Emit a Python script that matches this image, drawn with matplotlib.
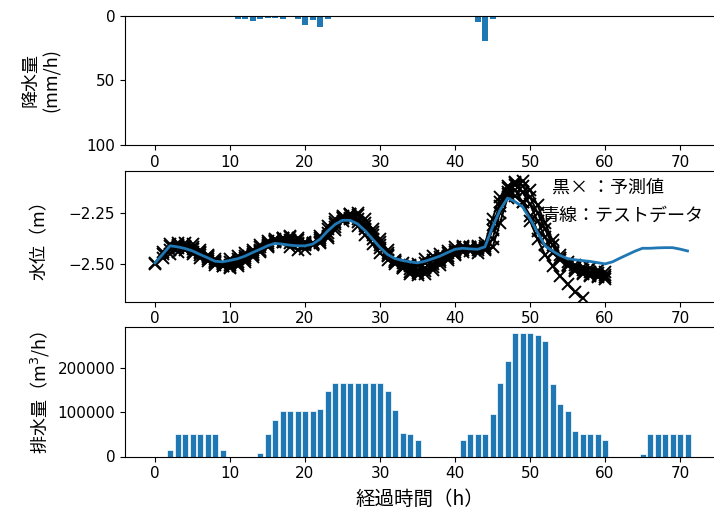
"""
plot.py

Three stacked panels: rainfall (inverted), water level with predictions,
and pumped discharge. Saves out.png.
"""

import matplotlib
matplotlib.use("Agg")
import matplotlib.pyplot as plt

JP = ["Noto Sans CJK JP", "DejaVu Sans"]

# --- rainfall (mm/h) ---
rain_hours = [11, 12, 13, 14, 15, 16, 17, 19, 20, 21, 22, 23, 43, 44, 45]
rain_mm = [2.5, 2.5, 4.5, 2.5, 2, 2, 2.5, 2.5, 7, 3.5, 8.5, 2.5, 5, 20, 3]

# --- observed water level (m), hourly 0..71 ---
test_hours = list(range(72))
test_level = [
    -2.495, -2.454, -2.412, -2.417, -2.425, -2.437, -2.454, -2.470, -2.487, -2.490,
    -2.483, -2.475, -2.462, -2.445, -2.429, -2.412, -2.400, -2.404, -2.409, -2.412,
    -2.412, -2.404, -2.380, -2.341, -2.308, -2.288, -2.288, -2.305, -2.338, -2.379,
    -2.420, -2.454, -2.474, -2.483, -2.490, -2.495, -2.487, -2.475, -2.462, -2.445,
    -2.429, -2.424, -2.427, -2.429, -2.417, -2.321, -2.238, -2.180, -2.197, -2.222,
    -2.280, -2.346, -2.412, -2.437, -2.459, -2.474, -2.480, -2.484, -2.488, -2.494,
    -2.500, -2.490, -2.472, -2.455, -2.438, -2.424, -2.424, -2.422, -2.421, -2.421,
    -2.428, -2.437,
]

# --- predicted water level (m), one list per prediction run ---
pred1_start = 0
pred1 = [
    -2.495, -2.452, -2.405, -2.410, -2.420, -2.440, -2.458, -2.478, -2.495, -2.498,
    -2.490, -2.478, -2.462, -2.440, -2.420, -2.400, -2.385, -2.392, -2.400, -2.405,
    -2.408, -2.398, -2.372, -2.330, -2.295, -2.275, -2.275, -2.295, -2.332, -2.378,
    -2.425, -2.462, -2.485, -2.497, -2.505, -2.508, -2.498, -2.482, -2.465, -2.448,
    -2.430, -2.420, -2.425, -2.430, -2.415, -2.310, -2.220, -2.160, -2.170, -2.200,
    -2.265, -2.340, -2.410, -2.445, -2.470, -2.490, -2.505, -2.515, -2.522, -2.530,
    -2.540,
]
pred2_start = 1
pred2 = [
    -2.470, -2.430, -2.398, -2.412, -2.428, -2.448, -2.468, -2.492, -2.510,
    -2.505, -2.490, -2.472, -2.452, -2.430, -2.408, -2.388, -2.375, -2.385, -2.398,
    -2.405, -2.400, -2.385, -2.350, -2.305, -2.270, -2.262, -2.280, -2.315, -2.360,
    -2.410, -2.455, -2.492, -2.515, -2.525, -2.528, -2.518, -2.500, -2.480, -2.460,
    -2.440, -2.425, -2.418, -2.425, -2.428, -2.335, -2.200, -2.130, -2.115, -2.150,
    -2.210, -2.290, -2.370, -2.440, -2.480, -2.505, -2.520, -2.530, -2.538, -2.545,
    -2.552,
]
pred3_start = 2
pred3 = [
    -2.450, -2.415, -2.400, -2.420, -2.440, -2.462, -2.485, -2.508,
    -2.515, -2.500, -2.480, -2.458, -2.436, -2.412, -2.390, -2.372, -2.368, -2.385,
    -2.400, -2.402, -2.392, -2.362, -2.320, -2.275, -2.255, -2.262, -2.300, -2.345,
    -2.395, -2.445, -2.490, -2.522, -2.540, -2.545, -2.535, -2.515, -2.492, -2.470,
    -2.450, -2.432, -2.420, -2.418, -2.432, -2.380, -2.250, -2.150, -2.100, -2.120,
    -2.175, -2.250, -2.330, -2.410, -2.470, -2.510, -2.530, -2.545, -2.552, -2.558,
    -2.565,
]
pred4_start = 3
pred4 = [
    -2.440, -2.418, -2.405, -2.430, -2.455, -2.478, -2.500,
    -2.518, -2.510, -2.490, -2.465, -2.442, -2.418, -2.395, -2.378, -2.365, -2.372,
    -2.392, -2.405, -2.398, -2.372, -2.335, -2.290, -2.258, -2.250, -2.282, -2.330,
    -2.380, -2.432, -2.482, -2.522, -2.548, -2.555, -2.548, -2.528, -2.505, -2.480,
    -2.458, -2.440, -2.425, -2.415, -2.425, -2.420, -2.300, -2.180, -2.105, -2.095,
    -2.140, -2.215, -2.300, -2.385, -2.455, -2.505, -2.535, -2.550, -2.560, -2.566,
    -2.572,
]
pred5_start = 0
pred5 = [
    -2.500, -2.440, -2.415, -2.425, -2.432, -2.450, -2.470, -2.488, -2.505, -2.502,
    -2.478, -2.462, -2.448, -2.430, -2.410, -2.390, -2.380, -2.395, -2.420, -2.430,
    -2.428, -2.410, -2.365, -2.318, -2.282, -2.268, -2.282, -2.315, -2.360, -2.405,
    -2.448, -2.480, -2.500, -2.510, -2.512, -2.500, -2.478, -2.462, -2.450, -2.438,
    -2.420, -2.412, -2.435, -2.445, -2.400, -2.280, -2.175, -2.120, -2.140, -2.200,
    -2.290, -2.380, -2.455, -2.510, -2.560, -2.600, -2.635, -2.665,
]
predictions = [
    (pred1_start, pred1),
    (pred2_start, pred2),
    (pred3_start, pred3),
    (pred4_start, pred4),
    (pred5_start, pred5),
]

# --- pumped discharge (m3/h) ---
pump_hours = [
    2, 3, 4, 5, 6, 7, 8, 9,
    14, 15, 16, 17, 18, 19, 20, 21, 22, 23, 24, 25, 26, 27, 28, 29, 30, 31, 32, 33, 34, 35,
    41, 42, 43, 44, 45, 46, 47, 48, 49, 50, 51, 52, 53, 54, 55, 56, 57, 58, 59, 60,
    65, 66, 67, 68, 69, 70, 71,
]
pump_flow = [
    15000, 52000, 52000, 52000, 52000, 52000, 52000, 15000,
    8000, 52000, 83000, 104000, 104000, 104000, 104000, 104000, 108000, 148000,
    167000, 167000, 167000, 167000, 167000, 167000, 167000, 148000, 105000, 54000,
    52000, 38000,
    38000, 52000, 52000, 52000, 96000, 167000, 215000, 280000, 280000, 280000,
    274000, 261000, 164000, 118000, 103000, 57000, 52000, 52000, 52000, 38000,
    6000, 52000, 52000, 52000, 52000, 52000, 52000,
]

xticks = [0, 10, 20, 30, 40, 50, 60, 70]

fig = plt.figure(figsize=(7.14, 5.15), dpi=100)
left, width = 125 / 714, (717.5 - 125) / 714
ax1 = fig.add_axes([left, 1 - 145 / 515, width, 129.5 / 515])
ax2 = fig.add_axes([left, 1 - 301.5 / 515, width, 130.5 / 515])
ax3 = fig.add_axes([left, 1 - 456.5 / 515, width, 130 / 515])

# rainfall, drawn downward from the top
ax1.bar(rain_hours, rain_mm, width=0.8, color="#1f77b4")
ax1.set_ylim(100, 0)
ax1.set_yticks([0, 50, 100])

# water level
for start, vals in predictions:
    hrs = list(range(start, start + len(vals)))
    ax2.plot(hrs, vals, "k-", marker="x", markersize=8, markeredgewidth=1.4, linewidth=1.4)
ax2.plot(test_hours, test_level, color="#1f77b4", linewidth=2, zorder=5)
ax2.set_ylim(-2.683, -2.048)
ax2.set_yticks([-2.25, -2.50])
ax2.text(53.0, -2.128, "黒× ：予測値", family=JP, fontsize=13, va="center")
ax2.text(51.6, -2.265, "青線：テストデータ", family=JP, fontsize=13, va="center")

# discharge
ax3.bar(pump_hours, pump_flow, width=0.8, color="#1f77b4", edgecolor="white", linewidth=0.5)
ax3.set_ylim(0, 294000)
ax3.set_yticks([0, 100000, 200000])

for ax in (ax1, ax2, ax3):
    ax.set_xlim(-4, 75)
    ax.set_xticks(xticks)
    ax.tick_params(labelsize=11)

fig.text(30 / 714, 1 - 80 / 515, "降水量", family=JP, fontsize=13, rotation=90, ha="center", va="center")
fig.text(52 / 714, 1 - 80 / 515, "(mm/h)", family=JP, fontsize=13, rotation=90, ha="center", va="center")
fig.text(40 / 714, 1 - 236 / 515, "水位（m）", family=JP, fontsize=13, rotation=90, ha="center", va="center")
fig.text(40 / 714, 1 - 392 / 515, "排水量（m$^3$/h）", family=JP, fontsize=13, rotation=90, ha="center", va="center")
fig.text(420 / 714, 1 - 499 / 515, "経過時間（h）", family=JP, fontsize=14, ha="center", va="center")

fig.savefig("out.png", dpi=100)
plt.close(fig)
